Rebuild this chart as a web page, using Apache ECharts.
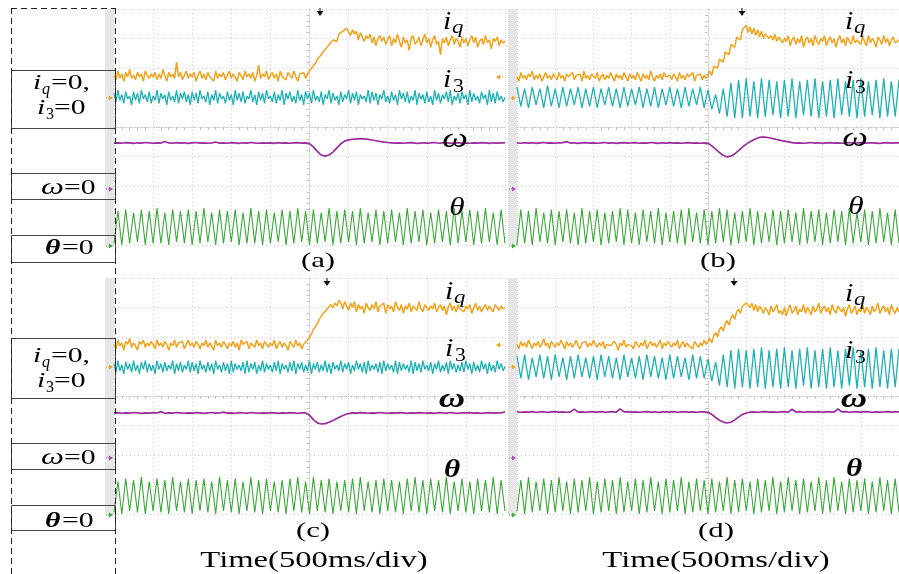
<!DOCTYPE html>
<html><head><meta charset="utf-8">
<script src="https://cdn.jsdelivr.net/npm/echarts@6/dist/echarts.min.js"></script>
<style>html,body{margin:0;padding:0;background:#fff}#c{width:899px;height:574px}</style>
</head><body><div id="c"></div>
<script>
// sample times span -5..5 divisions (500 ms/div), trigger at 0; samples are evenly spaced
const T_START = -5, T_END = 5;
// vertical values in units of 1/20 division (screen centre = 0)
const iqA = [35,32,38,33,36,31,37,34,39,33,35,32,37,34,36,31,38,35,33,36,
  34,37,32,36,33,39,35,31,37,34,36,33,44,34,37,32,35,38,33,36,
  34,37,31,35,38,33,36,32,37,34,35,31,38,33,36,34,37,32,35,38,
  33,36,34,31,37,35,32,38,34,36,33,37,31,35,42,33,36,34,38,32,
  35,37,33,36,31,38,34,35,32,37,36,33,38,34,31,36,35,37,33,36,
  37,40,39,43,46,45,49,51,50,54,56,55,59,60,58,63,62,65,64,67,
  67,62,66,63,65,59,64,61,58,62,60,63,57,61,55,60,62,58,61,56,
  59,62,55,60,57,63,58,54,61,57,59,52,60,62,56,58,61,55,59,63,
  57,60,54,59,62,56,58,49,60,57,61,55,59,62,56,60,58,54,61,57,
  60,55,59,62,57,61,54,58,60,56,62,57,59,53,60,58,61,55,59,57,58];
const i3A = [23,17,25,18,22,16,24,19,21,15,24,18,23,16,25,19,22,17,24,16,
  21,18,25,16,23,19,22,15,24,18,21,17,25,16,23,19,24,17,22,15,
  24,18,23,16,25,19,21,17,24,15,22,18,25,16,23,19,21,16,24,18,
  22,15,25,18,23,17,24,16,21,19,25,17,22,15,24,18,23,16,25,19,
  21,17,24,16,22,18,25,15,23,19,24,17,21,16,25,18,22,15,24,19,
  23,16,25,18,21,17,24,15,22,19,25,16,23,18,21,15,24,17,22,19,
  25,16,23,18,24,15,22,19,21,17,25,16,24,18,23,15,22,19,25,17,
  21,16,24,18,22,15,25,19,23,17,24,16,21,18,25,15,23,19,22,16,
  24,17,21,15,25,18,23,16,22,19,24,17,25,15,21,18,23,16,24,19,
  22,15,25,17,23,18,21,16,24,19,22,15,25,17,23,16,24,18,21,17,20];
const wA = [-10.9,-10.7,-11.0,-10.6,-10.8,-11.1,-10.7,-10.9,-10.5,-10.8, -11.0,-10.7,-10.9,-9.8,-10.8,-11.0,-10.6,-10.9,-10.7,-11.1, -10.8,-10.5,-10.9,-10.7,-11.0,-10.8,-10.2,-10.9,-10.7,-11.0, -10.6,-10.8,-11.1,-10.7,-10.9,-10.5,-10.8,-11.0,-10.7,-10.9, -10.8,-11.1,-10.6,-10.9,-10.7,-11.0,-10.8,-10.6,-10.9,-10.8,
  -11.2,-13.5,-16.5,-19.0,-19.7,-19.0,-17.0,-14.2,-11.4,-9.6, -8.7,-8.3,-8.1,-8.0,-8.1,-8.4,-8.8,-9.3,-9.8,-10.2, -10.5,-10.7,-10.9,-10.7,-11.0,-10.8,-10.6,-10.9,-11.1,-10.7, -10.9,-10.8,-10.5,-11.0,-10.8,-10.7,-11.1,-10.8,-10.6,-10.9, -10.8,-11.0,-10.7,-10.9,-10.6,-10.8,-11.1,-10.7,-10.9,-10.8,-10.7];
const thA = [-79,-57,-80,-56,-79,-58,-78,-56,-80,-57, -79,-55,-79,-58,-80,-56,-78,-57,-79,-56, -80,-57,-79,-55,-78,-58,-80,-56,-79,-57, -78,-56,-80,-58,-79,-55,-79,-57,-80,-56, -79,-58,-78,-56,-80,-57,-79,-55,-78,-57,
  -80,-56,-79,-58,-78,-55,-80,-57,-79,-56, -78,-57,-80,-55,-79,-58,-78,-56,-80,-57, -79,-56,-78,-58,-80,-55,-79,-57,-78,-56, -80,-58,-79,-56,-78,-57,-80,-55,-79,-57, -78,-56,-80,-57,-79,-55,-78,-58,-80,-56,-79];

const iqB = [34,31,37,33,35,32,36,34,38,32,35,33,36,31,34,37,33,35,32,36,
  34,32,37,33,35,31,36,34,33,37,32,35,34,36,31,38,33,35,32,36,
  35,33,37,31,34,36,32,35,33,37,34,31,36,33,35,32,37,34,31,36,
  33,35,32,37,34,31,36,33,35,32,38,34,31,35,33,36,32,37,34,33,
  35,32,36,34,31,37,33,35,32,36,34,33,37,31,35,34,36,32,35,33,
  35,38,35,41,42,40,46,47,44,51,52,49,56,57,54,61,62,59,66,65,
  69,64,68,63,67,62,66,61,65,60,63,64,60,62,59,63,58,61,62,57,
  60,58,62,55,59,61,56,60,57,62,54,59,61,57,60,55,62,58,56,60,
  58,62,55,59,61,57,60,54,59,62,57,60,55,61,58,56,62,57,59,60,
  56,61,58,55,62,57,60,58,54,61,59,56,62,57,60,55,59,61,57,58,59];
const i3B = [27,14,26,13,27,15,26,13,28,14, 26,13,27,14,26,15,27,13,26,14, 27,13,26,15,27,14,26,13,27,14, 26,15,27,13,26,14,27,13,26,15, 27,14,26,13,27,14,26,15,27,13,
  25,12,22,9,26,7,30,6,32,6, 33,7,31,6,33,7,32,8,31,6, 32,7,33,6,31,8,32,7,33,6, 31,7,32,6,33,8,31,7,32,6, 33,7,31,8,32,6,33,7,31,7,32];
const wB = [-10.8,-11.0,-10.6,-10.9,-10.7,-11.1,-10.8,-10.5,-10.9,-10.7, -11.0,-10.8,-10.6,-9.9,-10.9,-10.7,-11.1,-10.8,-10.6,-10.9, -10.7,-11.0,-10.8,-10.5,-10.9,-10.7,-11.1,-10.8,-10.6,-10.9, -10.8,-10.6,-11.0,-10.7,-10.9,-10.5,-10.8,-11.1,-10.7,-10.9, -10.6,-10.9,-10.7,-11.0,-10.8,-10.6,-10.9,-10.7,-11.0,-10.8,
  -11.0,-12.8,-15.0,-17.3,-19.2,-20.3,-19.8,-18.2,-16.0,-13.6, -11.6,-10.0,-8.6,-7.4,-6.8,-6.9,-7.3,-7.9,-8.5,-9.1, -9.6,-10.1,-10.6,-10.9,-10.7,-11.0,-10.8,-10.5,-10.9,-10.7, -11.1,-10.8,-10.6,-10.9,-10.7,-11.0,-10.8,-10.5,-10.9,-10.8, -10.6,-11.0,-10.8,-10.7,-10.9,-11.1,-10.8,-10.6,-10.9,-10.7,-10.8];
const thB = [-80,-56,-79,-57,-80,-55,-78,-58,-79,-56, -80,-57,-78,-56,-79,-58,-80,-55,-79,-57, -78,-56,-80,-58,-79,-57,-78,-55,-80,-56, -79,-58,-80,-56,-78,-57,-79,-55,-80,-58, -78,-57,-79,-56,-80,-55,-78,-58,-79,-56,
  -80,-57,-79,-55,-78,-56,-80,-58,-79,-57, -78,-55,-80,-57,-79,-58,-78,-56,-80,-57, -79,-56,-78,-58,-80,-55,-79,-57,-78,-56, -80,-58,-79,-56,-78,-57,-80,-55,-79,-58, -78,-56,-80,-57,-79,-55,-78,-58,-80,-56,-79];

const iqC = [35,32,38,34,36,31,37,35,39,33,36,34,31,37,35,38,33,36,34,37,
  35,32,38,34,36,33,37,35,31,36,34,38,33,36,35,37,32,35,38,34,
  36,33,37,35,32,36,34,38,33,36,35,31,38,34,36,33,37,35,32,36,
  34,37,33,36,31,38,35,34,37,32,36,35,33,38,34,36,32,37,35,33,
  36,34,38,32,35,37,33,36,34,31,37,35,33,38,34,36,32,35,36,38,
  40,42,45,47,49,52,54,56,57,59,60,62,60,63,61,65,63,59,64,61,
  58,63,60,64,57,62,59,61,56,63,60,58,62,59,64,57,61,60,63,56,
  62,59,61,57,64,60,58,62,56,61,59,63,57,61,60,58,64,59,57,62,
  60,58,61,59,63,57,60,62,58,61,55,60,63,58,61,57,62,59,60,57,
  61,59,62,56,60,63,58,61,57,60,62,58,61,59,57,62,60,58,61,59,60];
const i3C = [22,16,24,17,21,15,23,18,22,16,24,17,21,15,23,18,24,16,22,17,
  21,15,24,18,22,16,23,17,21,18,24,15,22,17,23,16,21,18,24,16,
  23,17,22,15,24,18,21,16,23,17,22,15,24,18,21,16,23,17,22,15,
  24,16,22,18,21,17,23,15,24,16,22,18,23,15,21,17,24,16,22,18,
  21,16,23,17,24,15,22,18,21,16,23,17,24,15,22,18,23,16,21,17,
  24,15,22,18,23,16,21,17,24,16,22,15,23,18,21,17,24,16,22,18,
  23,15,21,17,24,18,22,16,23,15,24,17,21,18,22,16,23,15,24,17,
  22,18,21,16,24,15,23,17,22,18,21,16,24,15,23,17,22,16,24,18,
  21,17,23,15,22,18,24,16,21,17,23,15,24,18,22,16,21,17,23,16,
  24,18,22,15,23,17,21,16,24,18,22,15,23,17,21,16,24,18,22,17,20];
const wC = [-11.5,-11.3,-11.7,-11.4,-11.6,-11.2,-11.5,-11.8,-11.4,-11.6, -11.3,-11.5,-10.6,-11.7,-11.4,-11.6,-11.2,-11.5,-11.7,-11.4, -11.6,-11.3,-11.5,-11.8,-11.4,-11.2,-11.6,-11.5,-10.9,-11.6, -11.4,-11.7,-11.3,-11.5,-11.6,-11.2,-11.5,-11.7,-11.4,-11.6, -11.3,-11.5,-11.8,-11.4,-11.6,-11.3,-11.5,-11.7,-11.4,-11.5,
  -13.0,-16.0,-18.2,-19.0,-18.7,-17.8,-16.6,-15.2,-13.9,-12.7, -11.9,-11.4,-11.6,-11.3,-11.5,-11.7,-11.4,-11.6,-11.2,-11.5, -11.7,-11.4,-11.6,-11.3,-11.5,-11.8,-11.4,-11.6,-11.3,-11.5, -11.6,-11.4,-11.7,-11.3,-11.5,-11.6,-11.2,-11.5,-11.7,-11.4, -11.5,-11.3,-11.6,-11.4,-11.7,-11.5,-11.3,-11.6,-11.4,-11.5,-10.8];
const thC = [-79,-58,-80,-56,-78,-57,-79,-55,-80,-58, -78,-56,-79,-57,-80,-55,-78,-58,-79,-56, -80,-57,-78,-56,-79,-58,-80,-55,-78,-57, -79,-56,-80,-58,-78,-55,-79,-57,-80,-56, -78,-58,-79,-57,-80,-56,-78,-55,-79,-58,
  -80,-55,-78,-57,-79,-56,-80,-58,-78,-57, -79,-56,-80,-55,-78,-58,-79,-57,-80,-56, -78,-57,-79,-58,-80,-56,-78,-55,-79,-57, -80,-56,-78,-57,-79,-55,-80,-58,-78,-56, -79,-58,-80,-56,-78,-57,-79,-55,-80,-57,-78];

const iqD = [35,32,37,34,36,33,38,35,32,36,34,37,33,35,39,34,36,32,37,35,
  33,36,34,38,35,32,37,34,36,33,35,38,34,32,36,35,37,33,36,34,
  38,35,33,36,34,37,32,35,36,34,33,37,35,31,36,34,38,33,35,36,
  34,32,37,35,33,36,34,38,32,35,37,34,36,33,35,38,32,36,34,37,
  35,33,36,34,38,32,35,37,33,36,34,35,32,37,35,33,36,34,38,35,
  36,39,36,41,43,40,45,47,44,49,51,48,53,55,52,57,59,56,61,62,
  63,64,60,63,58,62,57,61,59,56,60,58,55,61,57,59,62,56,58,55,
  60,54,59,62,56,58,61,55,59,57,62,56,60,58,55,61,57,59,63,56,
  59,61,57,60,55,62,58,56,61,59,57,60,54,59,62,56,58,61,55,59,
  57,62,56,60,58,55,61,57,59,63,56,59,61,57,60,55,62,58,56,60,57];
const i3D = [27,12,28,11,26,13,28,12,27,11, 28,13,26,11,27,12,28,13,26,12, 27,11,28,13,27,12,26,11,28,13, 26,12,27,11,28,13,27,12,26,11, 28,12,27,13,26,11,28,12,27,12,
  25,10,23,7,28,6,31,5,32,6, 31,5,32,6,33,5,31,6,32,5, 33,6,31,5,32,7,33,5,31,6, 32,5,33,6,31,5,32,7,33,5, 31,6,32,5,33,6,31,5,32,6,32];
const wD = [-10.8,-11.0,-10.7,-10.9,-10.6,-11.0,-10.8,-10.7,-11.1,-10.8, -10.6,-10.9,-10.7,-11.0,-10.8,-8.9,-10.9,-10.7,-11.0,-10.8, -10.7,-10.9,-10.6,-11.0,-10.8,-10.7,-10.9,-8.7,-10.8,-10.6, -10.9,-10.7,-11.0,-10.8,-10.6,-10.9,-10.7,-11.1,-10.8,-10.7, -10.9,-10.6,-11.0,-10.8,-10.7,-10.9,-10.8,-11.0,-10.7,-10.8,
  -11.0,-12.5,-14.6,-16.4,-17.7,-18.3,-17.8,-16.2,-14.3,-12.6, -11.5,-10.9,-10.7,-11.0,-10.8,-10.6,-10.9,-10.7,-11.0,-10.8, -10.7,-10.9,-9.0,-10.8,-10.6,-11.0,-10.8,-10.7,-10.9,-10.6, -11.0,-10.8,-10.7,-10.9,-8.8,-10.8,-10.6,-11.0,-10.8,-10.7, -10.9,-10.6,-10.8,-11.0,-10.7,-10.9,-10.8,-10.6,-10.9,-10.8,-10.7];
const thD = [-78,-57,-80,-55,-79,-58,-78,-56,-80,-57, -79,-55,-78,-58,-80,-56,-79,-57,-78,-55, -80,-58,-79,-56,-78,-57,-80,-55,-79,-58, -78,-56,-80,-57,-79,-55,-78,-58,-80,-56, -79,-57,-78,-55,-80,-58,-79,-56,-78,-57,
  -80,-56,-79,-58,-78,-55,-80,-57,-79,-56, -78,-58,-80,-56,-79,-57,-78,-55,-80,-58, -79,-55,-78,-57,-80,-56,-79,-58,-78,-55, -80,-57,-79,-55,-78,-58,-80,-56,-79,-57, -78,-56,-80,-58,-79,-55,-78,-57,-80,-56,-79];

const panelLetters = ['(a)','(b)','(c)','(d)'];
const timeLabel = 'Time(500ms/div)';
const COLORS = {iq:'#f2a21c', i3:'#1fb2b4', w:'#9a2c9e', th:'#3aaa36'};

const panels = [
  {grid:{left:114, top:9,   width:391, height:236}, iq:iqA, i3:i3A, w:wA, th:thA},
  {grid:{left:517, top:9,   width:391, height:236}, iq:iqB, i3:i3B, w:wB, th:thB},
  {grid:{left:114, top:278, width:391, height:236}, iq:iqC, i3:i3C, w:wC, th:thC},
  {grid:{left:517, top:278, width:391, height:236}, iq:iqD, i3:i3D, w:wD, th:thD}
];

function pts(arr){
  const step = (T_END - T_START) / (arr.length - 1);
  return arr.map((v,i)=>[+(T_START + i*step).toFixed(3), v]);
}

const GRIDC = '#c9c9c9';
const xAxes = [], yAxes = [], series = [];
panels.forEach((p,k)=>{
  xAxes.push({type:'value', gridIndex:k, min:-5, max:5, interval:1,
    axisLine:{show:true, onZero:true, lineStyle:{color:GRIDC, type:[1,2], width:1}},
    axisTick:{show:false}, axisLabel:{show:false},
    minorTick:{show:true, splitNumber:5, length:3, lineStyle:{color:'#c2c2c2'}},
    splitLine:{show:true, lineStyle:{color:GRIDC, type:[1,3], width:1}}});
  yAxes.push({type:'value', gridIndex:k, min:-80, max:80, interval:20,
    axisLine:{show:true, onZero:true, lineStyle:{color:GRIDC, type:[1,2], width:1}},
    axisTick:{show:false}, axisLabel:{show:false},
    minorTick:{show:true, splitNumber:5, length:3, lineStyle:{color:'#c2c2c2'}},
    splitLine:{show:true, lineStyle:{color:GRIDC, type:[1,3], width:1}}});
  const mk = (arr, c, w, z) => ({type:'line', xAxisIndex:k, yAxisIndex:k, data:pts(arr),
    showSymbol:false, symbol:'none', silent:true, z, lineStyle:{color:c, width:w}});
  series.push(mk(p.th, COLORS.th, 1.1, 2), mk(p.w, COLORS.w, 1.7, 3), mk(p.i3, COLORS.i3, 1.3, 4), mk(p.iq, COLORS.iq, 1.5, 5));
});

const SERIF = '"Liberation Serif","Times New Roman",serif';
function txt(x, base, str, size, o){
  o = o || {};
  const al = o.al || 'left';
  return {type:'text', x:x, y: base - 0.3*size, scaleX: (o.sx==null?1.3:o.sx), z:100,
    style:{text:str, font:(o.it?'italic ':'')+(o.b?'bold ':'')+size+'px '+SERIF, fill:'#000',
      align:al, textAlign:al, verticalAlign:'middle', textVerticalAlign:'middle'}};
}
function rect(x,y,w,h,fill,stroke){
  return {type:'rect', z:(fill==='none'?90:-10), shape:{x:x,y:y,width:w,height:h},
    style:{fill:fill, stroke:stroke||null, lineWidth:1}};
}
function dline(x1,y1,x2,y2){
  return {type:'line', z:95, shape:{x1:x1,y1:y1,x2:x2,y2:y2}, style:{stroke:'#222', lineWidth:1, lineDash:[6,4]}};
}
function trig(x,y){
  return [{type:'line', z:99, shape:{x1:x,y1:y,x2:x,y2:y+5}, style:{stroke:'#111', lineWidth:1}},
          {type:'polygon', z:99, shape:{points:[[x-3.5,y+3],[x+3.5,y+3],[x,y+8]]}, style:{fill:'#111'}}];
}
function mark(x,y,c,dir){
  const pts2 = dir>0 ? [[x,y-2.5],[x,y+2.5],[x+4,y]] : [[x,y-2.5],[x,y+2.5],[x-4,y]];
  return [{type:'polygon', z:98, shape:{points:pts2}, style:{fill:c}},
          {type:'line', z:98, shape:{x1:x-3*dir,y1:y,x2:x,y2:y}, style:{stroke:c, lineWidth:1, lineDash:[1,1]}}];
}

const g = [];
g.push(rect(105,9,9,237,'#e6e6e6'), rect(508,9,9,237,'#e6e6e6'), rect(105,278,9,237,'#e6e6e6'), rect(508,278,9,237,'#e6e6e6'));
g.push(dline(11,8.5,115,8.5), dline(11.5,8,11.5,574), dline(115.5,8,115.5,574));
g.push(rect(11.5,70.5,104,58,'none','#444'), rect(11.5,173.5,104,26,'none','#444'), rect(11.5,235.5,104,27,'none','#444'));
g.push(rect(11.5,338.5,104,60,'none','#444'), rect(11.5,443.5,104,26,'none','#444'), rect(11.5,505.5,104,25,'none','#444'));
[[0,90,115,195,255],[1,363,388,465,528]].forEach(r=>{
  const b1=r[1], b2=r[2], b3=r[3], b4=r[4];
  g.push(txt(33,b1,'i',22,{it:true,sx:1.35}), txt(42,b1+5,'q',16,{it:true,sx:1.0}), txt(51,b1,'=0,',22,{sx:1.35}));
  g.push(txt(37,b2,'i',22,{it:true,sx:1.35}), txt(46,b2+5,'3',16,{sx:1.0}), txt(54,b2,'=0',22,{sx:1.35}));
  g.push(txt(41,b3,'\u03c9',24,{it:true,sx:1.35}), txt(64,b3,'=0',22,{sx:1.35}));
  g.push(txt(45,b4,'\u03b8',22,{it:true,b:true,sx:1.35}), txt(62,b4,'=0',22,{sx:1.35}));
});
const labs = [
  {x:443, iq:30, i3:88, w:148, wx:455, th:216, thx:457, bold:false},
  {x:845, iq:30, i3:89, w:147, wx:855, th:215, thx:856, bold:false},
  {x:445, iq:300, i3:357, w:408, wx:452, th:478, thx:452, bold:true},
  {x:845, iq:302, i3:359, w:408, wx:854, th:477, thx:854, bold:true}
];
labs.forEach(L=>{
  g.push(txt(L.x, L.iq, 'i', 25, {it:true, sx:1.2}), txt(L.x+9, L.iq+4, 'q', 19, {it:true, sx:1.2}));
  g.push(txt(L.x, L.i3, 'i', 25, {it:true, sx:1.2}), txt(L.x+10, L.i3+5, '3', 18, {sx:1.2}));
  g.push(txt(L.wx, L.w, '\u03c9', 28, {it:true, b:L.bold, sx:1.3, al:'center'}));
  g.push(txt(L.thx, L.th, '\u03b8', 26, {it:true, b:L.bold, sx:1.2, al:'center'}));
});
g.push(txt(318,268,panelLetters[0],22,{al:'center',sx:1.4}), txt(718,268,panelLetters[1],22,{al:'center',sx:1.4}));
g.push(txt(313,538,panelLetters[2],22,{al:'center',sx:1.4}), txt(716,538,panelLetters[3],22,{al:'center',sx:1.4}));
g.push(txt(314,568,timeLabel,24,{al:'center',sx:1.36}), txt(716,568,timeLabel,24,{al:'center',sx:1.36}));
g.push(...trig(320,8), ...trig(742,8), ...trig(327,278), ...trig(734,278));
[[109,98],[512,98],[109,367],[512,367]].forEach(p=>g.push(...mark(p[0],p[1],'#e8a530',1)));
[[109,189],[512,189],[109,458],[512,458]].forEach(p=>g.push(...mark(p[0],p[1],'#b04ab4',1)));
[[109,246],[512,246],[109,515],[512,515]].forEach(p=>g.push(...mark(p[0],p[1],'#3aaa36',1)));
g.push(...mark(500,77,'#f2a21c',-1), ...mark(500,345,'#f2a21c',-1));

const chart = echarts.init(document.getElementById('c'), null, {renderer:'canvas'});
chart.setOption({
  animation:false, backgroundColor:'#fff',
  grid: panels.map(p=>Object.assign({show:false}, p.grid)),
  xAxis:xAxes, yAxis:yAxes, series:series, graphic:{elements:g}
});
</script></body></html>
